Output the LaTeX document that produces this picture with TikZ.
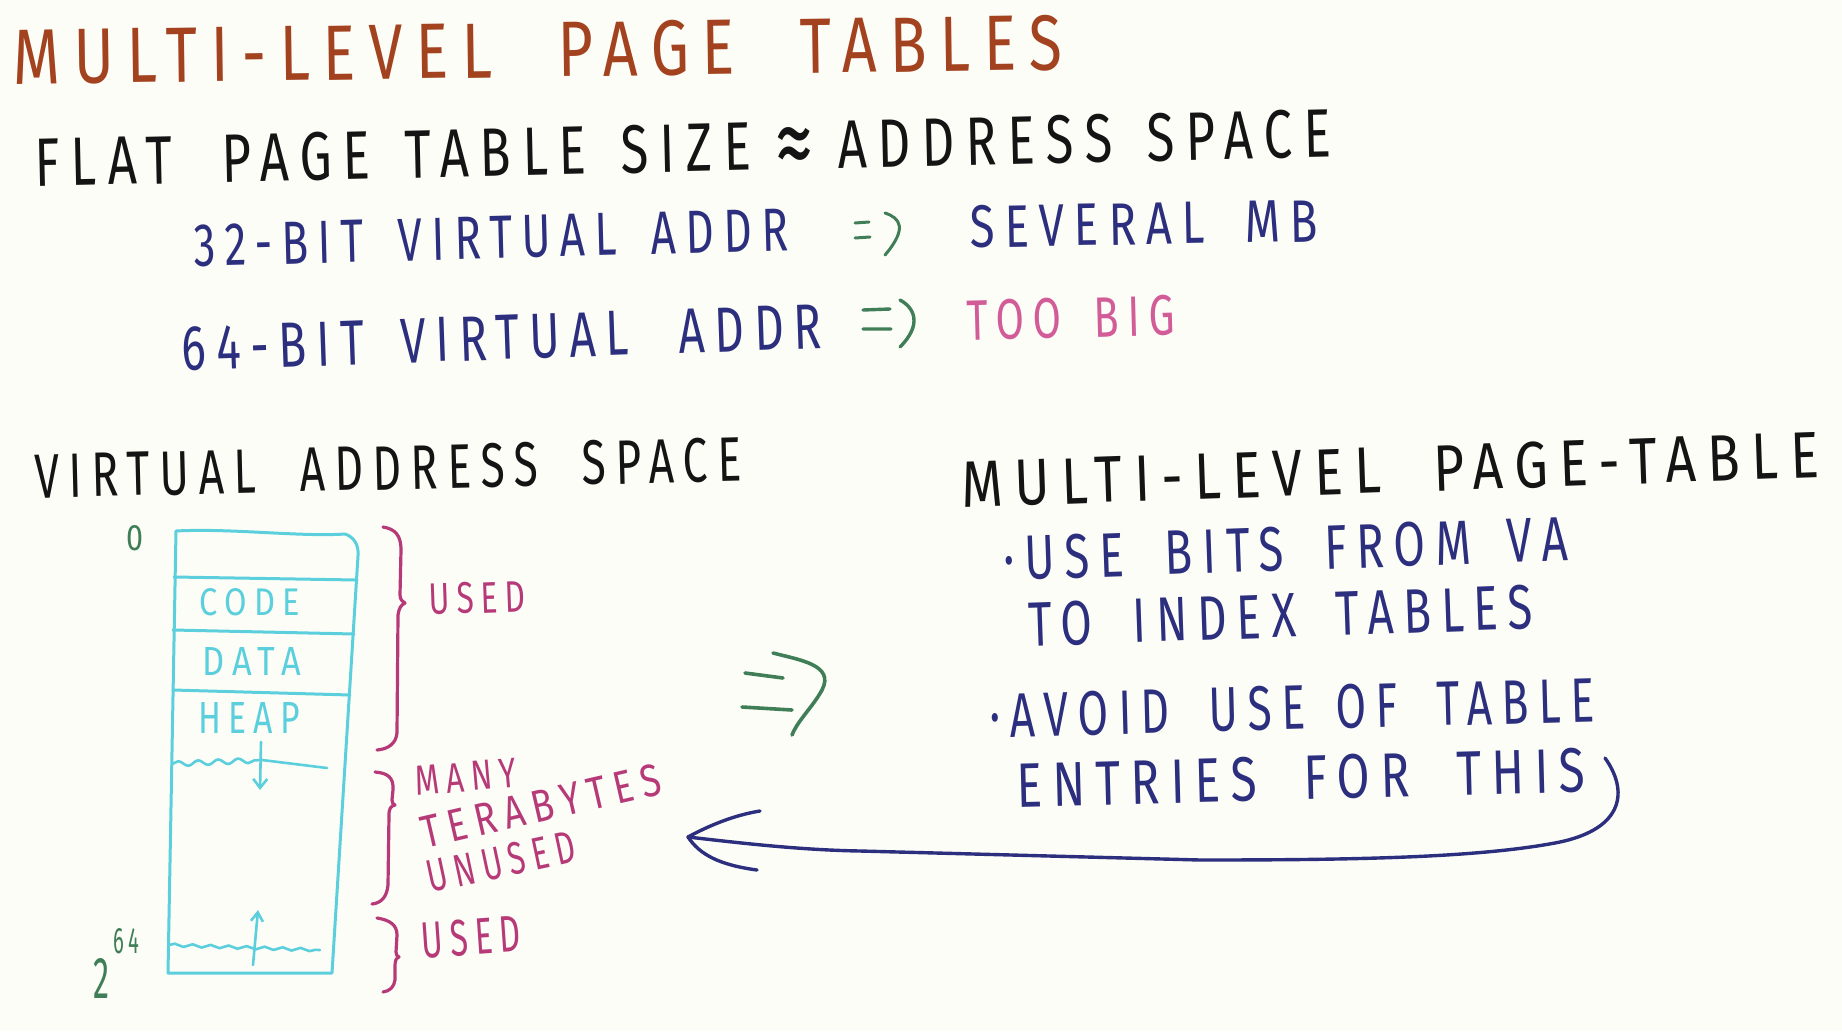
\documentclass[tikz,border=0pt]{standalone}
\usepackage{fontspec}
\setmainfont{Fira Sans}
\newfontfamily\hand[LetterSpace=22]{Fira Sans}
\usepackage{graphicx}
\usetikzlibrary{arrows.meta,decorations.pathmorphing}
\newcommand{\hw}[3]{\resizebox{#1pt}{#2pt}{\hand #3}}
\definecolor{bgc}{HTML}{FDFDF8}
\definecolor{brownc}{HTML}{A3421F}
\definecolor{inkc}{HTML}{141414}
\definecolor{navyc}{HTML}{2C2E7E}
\definecolor{greenc}{HTML}{3F7E57}
\definecolor{pinkc}{HTML}{D25C98}
\definecolor{magc}{HTML}{B73A78}
\definecolor{cyanc}{HTML}{5CCFDC}
\tikzset{
  txt/.style={inner sep=0pt, anchor=center},
  pen/.style={line width=3.6pt, line cap=round, line join=round},
  cyanpen/.style={pen, draw=cyanc, line width=3pt},
  magpen/.style={pen, draw=magc, line width=3.2pt},
  greenpen/.style={pen, draw=greenc},
  navypen/.style={pen, draw=navyc, line width=3.4pt},
}
\begin{document}
\begin{tikzpicture}[x=1pt,y=-1pt]
\fill[bgc] (0,0) rectangle (1842,1031);
\useasboundingbox (0,0) rectangle (1842,1031);

% title
\node[txt, text=brownc, rotate=0.8] (title) at (538,50) {\hw{1049}{55}{MULTI-LEVEL\hspace{0.6em} PAGE\hspace{0.6em} TABLES}};
% flat page table line
\node[txt, text=inkc, rotate=1.3] (flat) at (683,152) {\hw{1296}{48}{FLAT\hspace{0.5em} PAGE\hspace{0.2em} TABLE\hspace{0.2em} SIZE \raisebox{-0.12em}{\scalebox{1.5}{≈}} ADDRESS\hspace{0.2em} SPACE}};
% 32-bit
\node[txt, text=navyc, rotate=1.5] (l32) at (491,238) {\hw{595}{42}{32-BIT\hspace{0.3em} VIRTUAL\hspace{0.3em} ADDR}};
\node[txt, text=navyc, rotate=1] (several) at (1144,224) {\hw{348}{42}{SEVERAL\hspace{0.4em} MB}};
% 64-bit
\node[txt, text=navyc, rotate=2] (l64) at (502,338) {\hw{640}{44}{64-BIT\hspace{0.3em} VIRTUAL\hspace{0.6em} ADDR}};
\node[txt, text=pinkc, rotate=1.5] (toobig) at (1071,318) {\hw{208}{40}{TOO\hspace{0.3em} BIG}};

% small implication arrows
\draw[greenpen, line width=3pt] (855,223) -- (869,222) (855,238) -- (870,237);
\draw[greenpen, line width=3pt] (885,213) .. controls (900,218) and (908,228) .. (885,255);
\draw[greenpen, line width=3.4pt] (863,310) -- (890,309) (863,329) -- (891,329);
\draw[greenpen, line width=3.4pt] (900,300) .. controls (915,308) and (922,325) .. (900,347);

% section headings
\node[txt, text=inkc, rotate=1.4] (vas) at (388,468) {\hw{707}{44}{VIRTUAL\hspace{0.5em} ADDRESS\hspace{0.5em} SPACE}};
\node[txt, text=inkc, rotate=2] (mlpt) at (1390,470) {\hw{858}{46}{MULTI-LEVEL\hspace{0.5em} PAGE-TABLE}};
\node[txt, text=navyc, rotate=2] (b1a) at (1286,549) {\hw{564}{44}{·USE\hspace{0.4em} BITS\hspace{0.4em} FROM\hspace{0.3em} VA}};
\node[txt, text=navyc, rotate=2] (b1b) at (1281,616) {\hw{504}{44}{TO\hspace{0.4em} INDEX\hspace{0.4em} TABLES}};
\node[txt, text=navyc, rotate=1.5] (b2a) at (1292,708) {\hw{605}{44}{·AVOID\hspace{0.4em} USE\hspace{0.2em} OF\hspace{0.4em} TABLE}};
\node[txt, text=navyc, rotate=1.5] (b2b) at (1301,778) {\hw{569}{44}{ENTRIES\hspace{0.5em} FOR\hspace{0.5em} THIS}};

% big green implication arrow
\draw[greenpen] (745,673) -- (783,678);
\draw[greenpen] (742,707) -- (792,710);
\draw[greenpen] (773,653) .. controls (800,660) and (835,665) .. (822,690) .. controls (812,708) and (798,720) .. (792,735);

% virtual address space box
\draw[cyanpen] (168,973) -- (176,531) .. controls (230,528) and (300,537) .. (345,534) .. controls (354,537) and (359,545) .. (358,556) -- (332,973) -- cycle;
\draw[cyanpen] (174,577) -- (357,580);
\draw[cyanpen] (173,630) -- (354,634);
\draw[cyanpen] (173,690) -- (350,695);
\node[txt, text=cyanc] (code) at (250,602) {\hw{100}{27}{CODE}};
\node[txt, text=cyanc] (data) at (252,661) {\hw{98}{28}{DATA}};
\node[txt, text=cyanc] (heap) at (249,718) {\hw{102}{31}{HEAP}};
\draw[cyanpen, line width=2.6pt, decorate, decoration={snake, amplitude=2.5pt, segment length=20pt}] (172,764) -- (262,760);
\draw[cyanpen, line width=2.6pt] (262,760) -- (327,768);
\coordinate (hs) at (261,742);
\coordinate (he) at (260,790);
\draw[cyanpen, line width=2.6pt, -{Straight Barb[length=9pt,width=14pt]}] (hs) -- (he);
\draw[cyanpen, line width=2.6pt, decorate, decoration={snake, amplitude=1.5pt, segment length=18pt}] (169,945) -- (320,950);
\coordinate (ss) at (253,965);
\coordinate (se) at (258,910);
\draw[cyanpen, line width=2.6pt, -{Straight Barb[length=9pt,width=12pt]}] (ss) -- (se);

% address labels
\node[txt, text=greenc] (zero) at (135,538) {\hw{17}{25}{0}};
\node[txt, text=greenc] (two) at (101,978) {\hw{16}{40}{2}};
\node[txt, text=greenc] (sixtyfour) at (126,941) {\hw{26}{25}{64}};

% braces
\draw[magpen] (383,527) .. controls (395,529) and (401,535) .. (401,550) -- (400,595) .. controls (400,600) and (403,602) .. (405,603) .. controls (401,605) and (399,608) .. (398,615) -- (397,733) .. controls (396,743) and (389,749) .. (377,750);
\draw[magpen] (375,772) .. controls (387,773) and (394,777) .. (393,790) -- (392,800) .. controls (392,803) and (393,804) .. (395,805) .. controls (391,806) and (389,808) .. (389,815) -- (388,885) .. controls (387,896) and (382,903) .. (372,904);
\draw[magpen] (377,918) .. controls (390,920) and (397,925) .. (397,935) -- (396,952) .. controls (396,955) and (397,956) .. (399,957) .. controls (396,958) and (395,961) .. (395,966) -- (395,980) .. controls (394,987) and (390,991) .. (383,992);

\node[txt, text=magc, rotate=2] (used1) at (477,598) {\hw{96}{31}{USED}};
\node[txt, text=magc, rotate=5] (many) at (466,777) {\hw{101}{29}{MANY}};
\node[txt, text=magc, rotate=13] (tera) at (541,806) {\hw{244}{32}{TERABYTES}};
\node[txt, text=magc, rotate=12] (unused) at (501,862) {\hw{150}{32}{UNUSED}};
\node[txt, text=magc, rotate=4] (used2) at (471,937) {\hw{100}{36}{USED}};

% blue curved arrow
\coordinate (cs) at (1605,758);
\coordinate (tip) at (688,837);
\draw[navypen] (cs) .. controls (1628,790) and (1625,828) .. (1560,842) .. controls (1480,858) and (1350,860) .. (1200,860) -- (860,851) .. controls (800,850) and (740,843) .. (tip);
\draw[navypen] (tip) .. controls (710,825) and (735,815) .. (760,811);
\draw[navypen] (tip) .. controls (700,855) and (720,865) .. (757,870);
\end{tikzpicture}
\end{document}
